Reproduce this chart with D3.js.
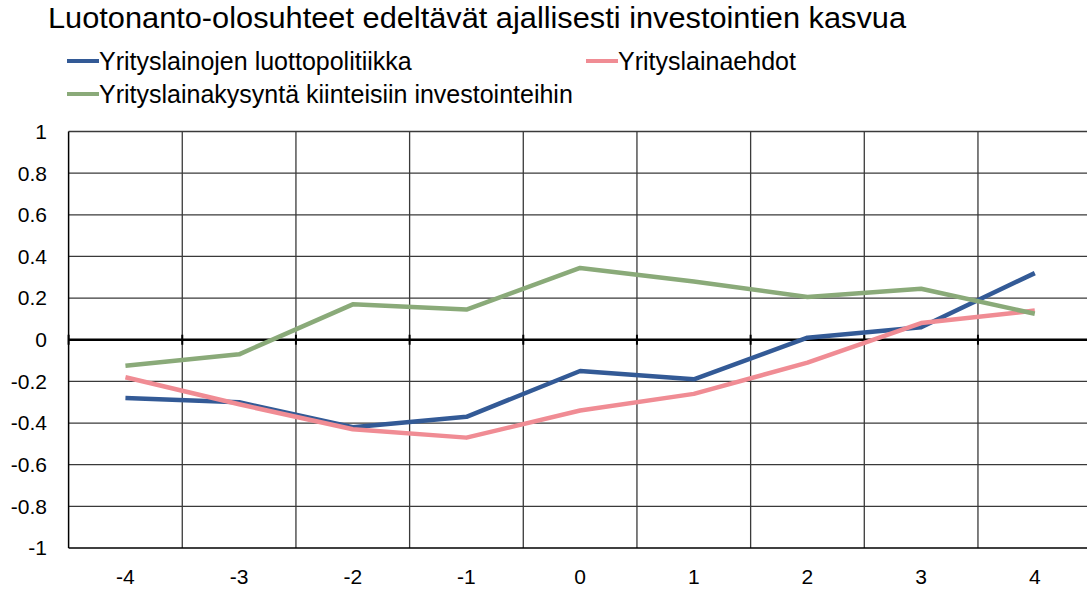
<!DOCTYPE html>
<html>
<head>
<meta charset="utf-8">
<script src="https://cdn.jsdelivr.net/npm/d3@7"></script>
<style>
  body { margin: 0; background: #fff; }
  text { font-family: "Liberation Sans", Arial, sans-serif; fill: #000; }
</style>
</head>
<body>
<script>
// Data
const categories = ["-4", "-3", "-2", "-1", "0", "1", "2", "3", "4"];
const luottopolitiikka = [-0.28, -0.30, -0.42, -0.37, -0.15, -0.19, 0.01, 0.06, 0.32];
const lainaehdot = [-0.18, -0.31, -0.43, -0.47, -0.34, -0.26, -0.11, 0.08, 0.14];
const lainakysynta = [-0.125, -0.07, 0.17, 0.145, 0.345, 0.28, 0.205, 0.245, 0.125];
const yTicks = [-1, -0.8, -0.6, -0.4, -0.2, 0, 0.2, 0.4, 0.6, 0.8, 1];

const title = "Luotonanto-olosuhteet edeltävät ajallisesti investointien kasvua";
const series = [
  {name: "Yrityslainojen luottopolitiikka", values: luottopolitiikka, color: "#335a96"},
  {name: "Yrityslainaehdot", values: lainaehdot, color: "#f08c94"},
  {name: "Yrityslainakysyntä kiinteisiin investointeihin", values: lainakysynta, color: "#8aaa79"}
];

const W = 1087, H = 589;
const margin = {top: 131.5, left: 68.6, bottom: 41};
const bandW = 113.67;

const svg = d3.select("body").append("svg")
  .attr("width", W)
  .attr("height", H);

// Scales
const x = d3.scaleBand()
  .domain(categories)
  .range([margin.left, margin.left + bandW * categories.length]);
const y = d3.scaleLinear()
  .domain([-1, 1])
  .range([H - margin.bottom, margin.top]);

// Title
svg.append("text")
  .attr("x", 48).attr("y", 27.5)
  .style("font-size", "30px")
  .attr("textLength", 858)
  .attr("lengthAdjust", "spacingAndGlyphs")
  .text(title);

// Legend positions
const legendPos = [[67, 61], [586, 61], [67, 94]];
series.forEach((s, i) => {
  const [lx, ly] = legendPos[i];
  svg.append("line")
    .attr("x1", lx).attr("x2", lx + 32)
    .attr("y1", ly).attr("y2", ly)
    .attr("stroke", s.color).attr("stroke-width", 4);
  svg.append("text")
    .attr("x", lx + 32).attr("y", ly + 9)
    .style("font-size", "25px")
    .text(s.name);
});

// Horizontal gridlines
svg.append("g").selectAll("line")
  .data(yTicks.filter(d => d !== 0 && d !== -1))
  .join("line")
  .attr("x1", margin.left).attr("x2", W)
  .attr("y1", d => y(d)).attr("y2", d => y(d))
  .attr("stroke", "#3a3a3a").attr("stroke-width", 1.3);

// Vertical gridlines at category boundaries
svg.append("g").selectAll("line")
  .data(categories.slice(1))
  .join("line")
  .attr("x1", d => x(d)).attr("x2", d => x(d))
  .attr("y1", y(1)).attr("y2", y(-1))
  .attr("stroke", "#3a3a3a").attr("stroke-width", 1.3);

// Bottom and left border
svg.append("line")
  .attr("x1", margin.left).attr("x2", W)
  .attr("y1", y(-1)).attr("y2", y(-1))
  .attr("stroke", "#000").attr("stroke-width", 1.5);
svg.append("line")
  .attr("x1", margin.left).attr("x2", margin.left)
  .attr("y1", y(1)).attr("y2", y(-1))
  .attr("stroke", "#000").attr("stroke-width", 1.5);

// Zero axis with ticks at category boundaries
svg.append("line")
  .attr("x1", margin.left).attr("x2", W)
  .attr("y1", y(0)).attr("y2", y(0))
  .attr("stroke", "#000").attr("stroke-width", 2.5);
svg.append("g").selectAll("line")
  .data(categories)
  .join("line")
  .attr("x1", d => x(d)).attr("x2", d => x(d))
  .attr("y1", y(0) - 5).attr("y2", y(0) + 5)
  .attr("stroke", "#000").attr("stroke-width", 2);

// Y tick labels
svg.append("g").selectAll("text")
  .data(yTicks)
  .join("text")
  .attr("x", 47)
  .attr("y", d => y(d))
  .attr("dy", "0.35em")
  .attr("text-anchor", "end")
  .style("font-size", "21px")
  .text(d => d3.format("")(d).replace("−", "-"));

// X tick labels
svg.append("g").selectAll("text")
  .data(categories)
  .join("text")
  .attr("x", d => x(d) + x.bandwidth() / 2)
  .attr("y", 584)
  .attr("text-anchor", "middle")
  .style("font-size", "21px")
  .text(d => d);

// Lines
const line = d3.line()
  .x((d, i) => x(categories[i]) + x.bandwidth() / 2)
  .y(d => y(d));

svg.append("g").selectAll("path")
  .data(series)
  .join("path")
  .attr("d", d => line(d.values))
  .attr("fill", "none")
  .attr("stroke", d => d.color)
  .attr("stroke-width", 4.5)
  .attr("stroke-linejoin", "round");
</script>
</body>
</html>
